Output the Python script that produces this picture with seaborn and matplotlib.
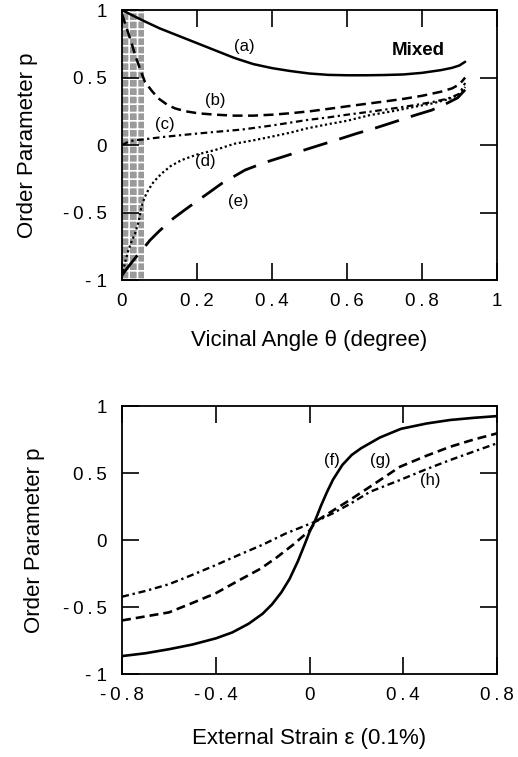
import matplotlib
matplotlib.use("Agg")
import matplotlib.pyplot as plt
import seaborn as sns

sns.set_theme(style="ticks")
plt.rcParams['font.family'] = ['Liberation Sans', 'DejaVu Sans']
plt.rcParams['hatch.linewidth'] = 1.2
plt.rcParams['text.color'] = 'black'
plt.rcParams['axes.labelcolor'] = 'black'

# --- top panel: order parameter vs vicinal angle ---
xa = [0, 0.05, 0.1, 0.15, 0.2, 0.25, 0.3, 0.35, 0.4, 0.45, 0.5, 0.55, 0.6, 0.65,
      0.7, 0.75, 0.8, 0.85, 0.88, 0.9, 0.915]
ya = [1.0, 0.93, 0.865, 0.81, 0.755, 0.70, 0.645, 0.60, 0.57, 0.548, 0.53, 0.52,
      0.517, 0.517, 0.519, 0.523, 0.535, 0.555, 0.572, 0.59, 0.617]

xb = [0, 0.012, 0.025, 0.035, 0.05, 0.061, 0.08, 0.097, 0.12, 0.141, 0.17, 0.204,
      0.25, 0.3, 0.35, 0.4, 0.45, 0.5, 0.55, 0.6, 0.65, 0.7, 0.75, 0.8, 0.85,
      0.88, 0.9, 0.915]
yb = [0.97, 0.87, 0.76, 0.667, 0.55, 0.469, 0.40, 0.346, 0.30, 0.272, 0.25, 0.235,
      0.225, 0.218, 0.218, 0.225, 0.236, 0.25, 0.268, 0.287, 0.305, 0.323, 0.342,
      0.365, 0.395, 0.42, 0.45, 0.50]

xc = [0, 0.01, 0.02, 0.035, 0.052, 0.08, 0.11, 0.159, 0.2, 0.25, 0.32, 0.4, 0.492,
      0.55, 0.6, 0.661, 0.72, 0.781, 0.83, 0.87, 0.9, 0.915]
yc = [0.0, 0.015, 0.027, 0.037, 0.04, 0.05, 0.06, 0.074, 0.085, 0.098, 0.115, 0.145,
      0.185, 0.205, 0.225, 0.247, 0.27, 0.296, 0.32, 0.345, 0.38, 0.46]

xd = [0, 0.008, 0.017, 0.026, 0.035, 0.045, 0.052, 0.06, 0.07, 0.085, 0.106, 0.13,
      0.159, 0.2, 0.248, 0.3, 0.35, 0.4, 0.45, 0.492, 0.55, 0.6, 0.661, 0.72,
      0.781, 0.83, 0.87, 0.9, 0.915]
yd = [-0.97, -0.87, -0.78, -0.71, -0.654, -0.56, -0.457, -0.39, -0.333, -0.27,
      -0.21, -0.155, -0.111, -0.07, -0.037, 0.01, 0.035, 0.063, 0.093, 0.123,
      0.155, 0.18, 0.222, 0.25, 0.284, 0.31, 0.34, 0.375, 0.43]

xe = [0, 0.02, 0.04, 0.06, 0.075, 0.1, 0.137, 0.17, 0.2, 0.235, 0.266, 0.3, 0.328,
      0.38, 0.43, 0.48, 0.528, 0.58, 0.626, 0.68, 0.73, 0.78, 0.826, 0.866,
      0.895, 0.915]
ye = [-0.963, -0.89, -0.82, -0.755, -0.704, -0.635, -0.543, -0.475, -0.415, -0.346,
      -0.284, -0.23, -0.185, -0.13, -0.086, -0.042, 0.0, 0.045, 0.086, 0.13,
      0.175, 0.22, 0.259, 0.309, 0.35, 0.41]

# --- bottom panel: order parameter vs external strain ---
xf = [-0.8, -0.7, -0.6, -0.5, -0.4, -0.33, -0.26, -0.2, -0.16, -0.12, -0.085,
      -0.05, -0.02, 0.0, 0.025, 0.05, 0.075, 0.1, 0.14, 0.18, 0.22, 0.26, 0.3,
      0.39, 0.5, 0.6, 0.7, 0.8]
yf = [-0.866, -0.845, -0.815, -0.78, -0.734, -0.69, -0.625, -0.55, -0.48, -0.39,
      -0.29, -0.16, -0.03, 0.06, 0.15, 0.26, 0.36, 0.45, 0.56, 0.635, 0.685,
      0.725, 0.765, 0.83, 0.87, 0.896, 0.912, 0.925]

xg = [-0.8, -0.7, -0.6, -0.5, -0.4, -0.3, -0.21, -0.14, -0.07, 0.0, 0.025, 0.1,
      0.173, 0.26, 0.386, 0.5, 0.6, 0.7, 0.8]
yg = [-0.60, -0.57, -0.54, -0.47, -0.397, -0.30, -0.215, -0.13, -0.035, 0.07,
      0.137, 0.22, 0.30, 0.40, 0.547, 0.63, 0.696, 0.75, 0.796]

xh = [-0.8, -0.7, -0.6, -0.5, -0.4, -0.3, -0.2, -0.1, 0.0, 0.025, 0.1, 0.173,
      0.258, 0.386, 0.5, 0.6, 0.7, 0.8]
yh = [-0.423, -0.38, -0.33, -0.26, -0.187, -0.11, -0.035, 0.05, 0.12, 0.137, 0.2,
      0.27, 0.36, 0.448, 0.53, 0.597, 0.66, 0.722]

# tick labels are slightly letter-spaced in the original (thin spaces)
T = '\u2009'
ytick_vals = [-1, -0.5, 0, 0.5, 1]
ytick_labels = ['- 1', f'-{T}0{T}.{T}5', '0', f'0{T}.{T}5', '1']
top_xticks = [0, 0.2, 0.4, 0.6, 0.8, 1]
top_xlabels = ['0', f'0{T}.{T}2', f'0{T}.{T}4', f'0{T}.{T}6', f'0{T}.{T}8', '1']
bot_xticks = [-0.8, -0.4, 0, 0.4, 0.8]
bot_xlabels = [f'-{T}0{T}.{T}8', f'-{T}0{T}.{T}4', '0', f'0{T}.{T}4', f'0{T}.{T}8']

fig = plt.figure(figsize=(5.18, 7.57), dpi=100)
ax1 = fig.add_axes([0.2355, 0.630, 0.724, 0.3567])
ax2 = fig.add_axes([0.2355, 0.1096, 0.724, 0.354])


def style_axes(ax):
    for s in ax.spines.values():
        s.set_linewidth(1.3)
        s.set_color('black')
    ax.tick_params(direction='in', length=12, width=1.2, top=True, right=True,
                   labelsize=13.5, colors='black')
    ax.tick_params(axis='y', pad=11)
    ax.tick_params(axis='x', pad=9)
    ax.set_ylim(-1, 1)
    ax.set_yticks(ytick_vals)
    ax.set_yticklabels(ytick_labels)
    ax.set_facecolor('white')


# shaded low-angle strip
ax1.axvspan(0, 0.06, facecolor='#9a9a9a', edgecolor='white', hatch='++',
            linewidth=0, zorder=0)

sns.lineplot(x=xa, y=ya, ax=ax1, color='black', lw=1.8, linestyle='-')
sns.lineplot(x=xb, y=yb, ax=ax1, color='black', lw=1.8, linestyle=(0, (4, 2.2)))
sns.lineplot(x=xc, y=yc, ax=ax1, color='black', lw=1.6,
             linestyle=(0, (3, 1.6, 1, 1.6)))
sns.lineplot(x=xd, y=yd, ax=ax1, color='black', lw=1.6, linestyle=(0, (1, 1.2)))
sns.lineplot(x=xe, y=ye, ax=ax1, color='black', lw=2.0, linestyle=(0, (9, 4.5)))

style_axes(ax1)
ax1.set_xlim(0, 1)
ax1.set_xticks(top_xticks)
ax1.set_xticklabels(top_xlabels)
ax1.set_xlabel('Vicinal Angle θ (degree)', fontsize=16)
ax1.set_ylabel('Order Parameter p', fontsize=16)
ax1.xaxis.set_label_coords(0.5, -0.185)
ax1.yaxis.set_label_coords(-0.224, 0.5)

for txt, tx, ty in [('(a)', 0.325, 0.733), ('(b)', 0.248, 0.333), ('(c)', 0.115, 0.153),
                    ('(d)', 0.221, -0.123), ('(e)', 0.309, -0.42)]:
    ax1.text(tx, ty, txt, fontsize=12, ha='center', va='center')
ax1.text(0.79, 0.704, 'Mixed', fontsize=13.5, fontweight='bold', ha='center',
         va='center')

sns.lineplot(x=xf, y=yf, ax=ax2, color='black', lw=1.9, linestyle='-')
sns.lineplot(x=xg, y=yg, ax=ax2, color='black', lw=1.9, linestyle=(0, (3.4, 1.9)))
sns.lineplot(x=xh, y=yh, ax=ax2, color='black', lw=1.7,
             linestyle=(0, (3, 1.6, 1, 1.6)))

style_axes(ax2)
ax2.set_xlim(-0.8, 0.8)
ax2.set_xticks(bot_xticks)
ax2.set_xticklabels(bot_xlabels)
ax2.set_xlabel('External Strain ε (0.1%)', fontsize=16)
ax2.set_ylabel('Order Parameter p', fontsize=16)
ax2.xaxis.set_label_coords(0.5, -0.2)
ax2.yaxis.set_label_coords(-0.205, 0.5)

for txt, tx, ty in [('(f)', 0.095, 0.597), ('(g)', 0.301, 0.597), ('(h)', 0.514, 0.448)]:
    ax2.text(tx, ty, txt, fontsize=12, ha='center', va='center')

fig.savefig('out.png', dpi=100, facecolor='white')
plt.close(fig)
